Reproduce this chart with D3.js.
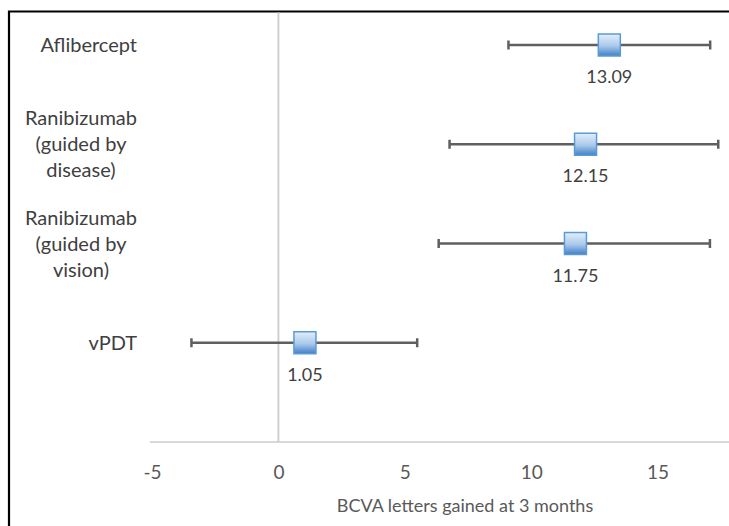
<!DOCTYPE html>
<html><head><meta charset="utf-8">
<script src="https://cdn.jsdelivr.net/npm/d3@7"></script>
<style>body{margin:0;background:#fff}svg{display:block}text{font-family:Lato,"Open Sans",sans-serif}</style>
</head><body>
<script>
const categories = [["Aflibercept"],["Ranibizumab","(guided by","disease)"],["Ranibizumab","(guided by","vision)"],["vPDT"]];
const positions = [4,3,2,1];
const means = [13.09,12.15,11.75,1.05];
const lower = [9.10,6.77,6.34,-3.44];
const upper = [17.08,17.40,17.07,5.49];
const xTicks = [-5,0,5,10,15];
const xTitle = "BCVA letters gained at 3 months";

const W=729,H=526;
const svg=d3.select("body").append("svg").attr("width",W).attr("height",H);
const defs=svg.append("defs");
const g=defs.append("linearGradient").attr("id","mk").attr("x1",0).attr("y1",0).attr("x2",0).attr("y2",1);
g.append("stop").attr("offset","0%").attr("stop-color","#e3eefa");
g.append("stop").attr("offset","55%").attr("stop-color","#a9c8ec");
g.append("stop").attr("offset","100%").attr("stop-color","#3f7fc6");

const x=d3.scaleLinear().domain([-5,20]).range([152,784]);
const y=d3.scaleLinear().domain([0,4]).range([442,45]);

// frame
svg.append("path").attr("d",`M9,${H+2}V11.5H${W+2}`).attr("fill","none").attr("stroke","#000").attr("stroke-width",2.2);

// axis line
svg.append("line").attr("x1",150).attr("x2",W).attr("y1",y(0)).attr("y2",y(0)).attr("stroke","#d9d9d9").attr("stroke-width",2);
// zero line
svg.append("line").attr("x1",x(0)).attr("x2",x(0)).attr("y1",12.5).attr("y2",y(0)).attr("stroke","#d0d0d0").attr("stroke-width",2);

// x axis ticks
const ax=svg.append("g").attr("transform",`translate(0,${y(0)})`).call(d3.axisBottom(x).tickValues(xTicks).tickFormat(d=>String(d)).tickSize(0).tickPadding(24));
ax.select(".domain").remove();
ax.selectAll("text").attr("font-size",19).attr("fill","#595959").style("font-family","Lato,'Open Sans',sans-serif");

svg.append("text").attr("x",465).attr("y",512).attr("text-anchor","middle").attr("font-size",18).attr("fill","#595959").text(xTitle);

// error bars
const rows=svg.append("g").selectAll("g").data(d3.range(means.length)).join("g");
rows.append("line").attr("x1",i=>x(lower[i])).attr("x2",i=>x(upper[i])).attr("y1",i=>y(positions[i])).attr("y2",i=>y(positions[i])).attr("stroke","#5f5f5f").attr("stroke-width",2.5);
rows.append("line").attr("x1",i=>x(lower[i])).attr("x2",i=>x(lower[i])).attr("y1",i=>y(positions[i])-4.5).attr("y2",i=>y(positions[i])+4.5).attr("stroke","#5f5f5f").attr("stroke-width",2.5);
rows.append("line").attr("x1",i=>x(upper[i])).attr("x2",i=>x(upper[i])).attr("y1",i=>y(positions[i])-4.5).attr("y2",i=>y(positions[i])+4.5).attr("stroke","#5f5f5f").attr("stroke-width",2.5);
rows.append("rect").attr("x",i=>x(means[i])-11).attr("y",i=>y(positions[i])-11).attr("width",22).attr("height",22).attr("fill","url(#mk)").attr("stroke","#5b9bd5").attr("stroke-width",1.5);
rows.append("text").attr("x",i=>x(means[i])).attr("y",i=>y(positions[i])+38).attr("text-anchor","middle").attr("font-size",18).attr("fill","#404040").text(i=>means[i].toFixed(2));

// category labels: right-aligned block, centered lines
const right=137, lh=26;
categories.forEach((lines,i)=>{
  const t=svg.append("g");
  const texts=lines.map((s,k)=>t.append("text").attr("font-size",20).attr("fill","#404040").attr("text-anchor","middle")
    .attr("y",y(positions[i])+(k-(lines.length-1)/2)*lh+7).text(s));
  const mw=d3.max(texts,n=>n.node().getComputedTextLength());
  texts.forEach(n=>n.attr("x",right-mw/2));
});
</script>
</body></html>
